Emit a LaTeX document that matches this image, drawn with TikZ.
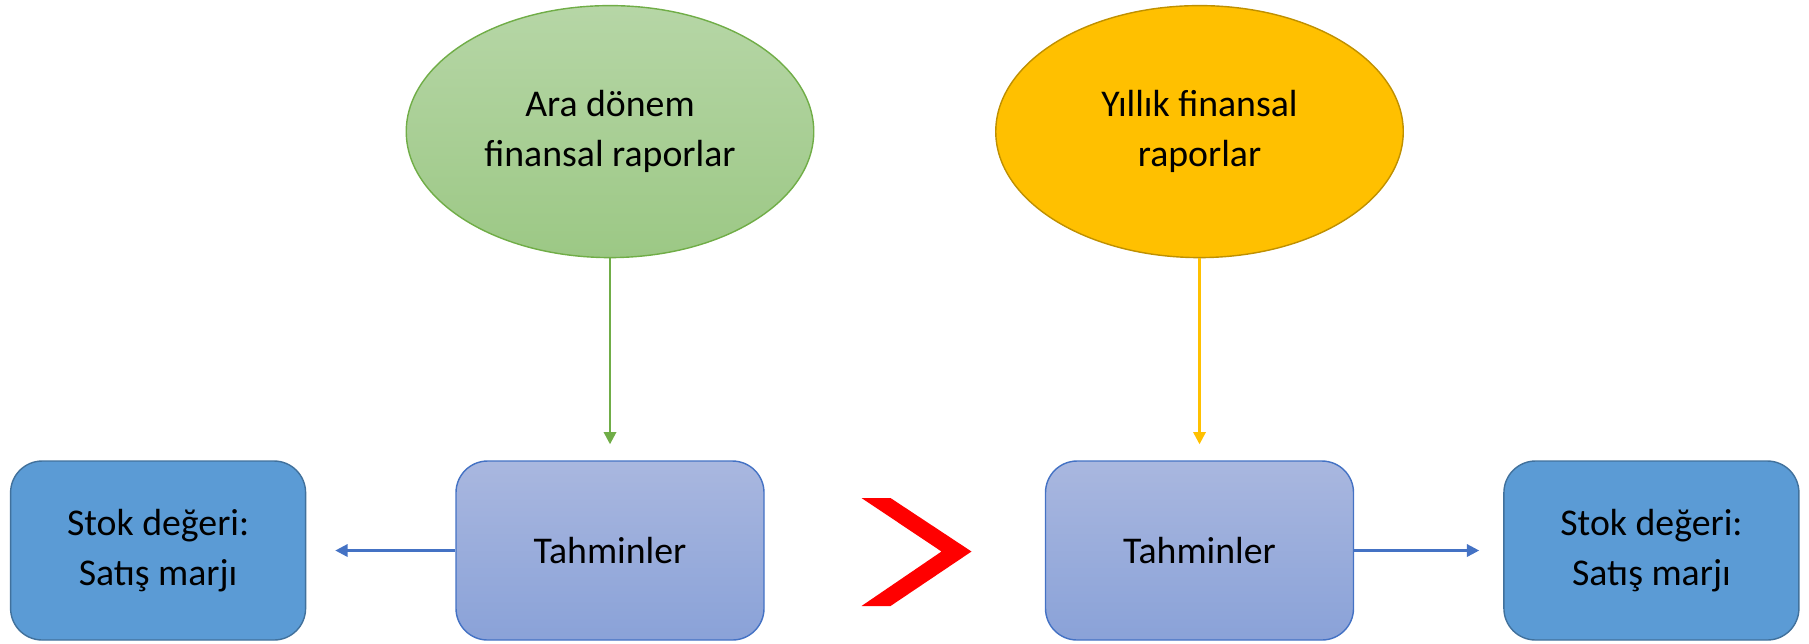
\documentclass[tikz,border=0pt]{standalone}
\usepackage{fontspec}
\setmainfont{Carlito}
\definecolor{greenline}{RGB}{112, 173, 71}
\definecolor{greentop}{RGB}{182, 214, 166}
\definecolor{greenbot}{RGB}{156, 200, 133}
\definecolor{yellowfill}{RGB}{255, 192, 0}
\definecolor{yellowline}{RGB}{191, 144, 0}
\definecolor{bluetop}{RGB}{169, 183, 223}
\definecolor{bluebot}{RGB}{138, 162, 216}
\definecolor{blueline}{RGB}{68, 114, 196}
\definecolor{stokfill}{RGB}{91, 155, 213}
\definecolor{stokline}{RGB}{65, 113, 156}
\usetikzlibrary{shapes.geometric, arrows.meta, positioning}

\begin{document}
\begin{tikzpicture}[
        txt/.style={align=center, text=black, font=\fontsize{21.5}{28.5}\selectfont},
        tahmin/.style={txt, draw=blueline, thick, rounded corners=18pt, top color=bluetop, bottom color=bluebot, minimum width=6.16cm, minimum height=3.58cm},
        stok/.style={txt, draw=stokline, thick, rounded corners=18pt, fill=stokfill, minimum width=5.9cm, minimum height=3.58cm},
        kaynak/.style={txt, ellipse, thick, minimum width=8.15cm, minimum height=5.04cm, inner sep=0pt},
        arr/.style={-{Triangle[width=7pt,length=7pt]}, line width=1.4pt, blueline},
        down/.style={-{Triangle[width=7pt,length=7pt]}, line width=1.4pt, shorten >=0.32cm}
    ]
        \useasboundingbox (0,0) rectangle (36.18,-12.86);
        \node[tahmin] (t1) at (12.2,-11.01) {Tahminler};
        \node[tahmin] (t2) at (23.99,-11.01) {Tahminler};
        \node[stok, left=2.98cm of t1] (s1) {Stok değeri:\\Satış marjı};
        \node[stok, right=2.98cm of t2] (s2) {Stok değeri:\\Satış marjı};
        \node[kaynak, draw=greenline, top color=greentop, bottom color=greenbot, above=4.04cm of t1] (e1) {Ara dönem\\finansal raporlar};
        \node[kaynak, draw=yellowline, fill=yellowfill, above=4.04cm of t2] (e2) {Yıllık finansal\\raporlar};
        % buyuktur isareti
        \fill[red] (17.23,-9.96) -- (17.81,-9.96) -- (19.43,-11.03) -- (17.81,-12.12) -- (17.23,-12.12) -- (18.83,-11.03) -- cycle;
        \draw[down, greenline] (e1) -- (t1);
        \draw[down, yellowfill] (e2) -- (t2);
        \draw[arr, shorten >=0.58cm] (t1) -- (s1);
        \draw[arr, shorten >=0.48cm] (t2) -- (s2);
    \end{tikzpicture}
\end{document}
